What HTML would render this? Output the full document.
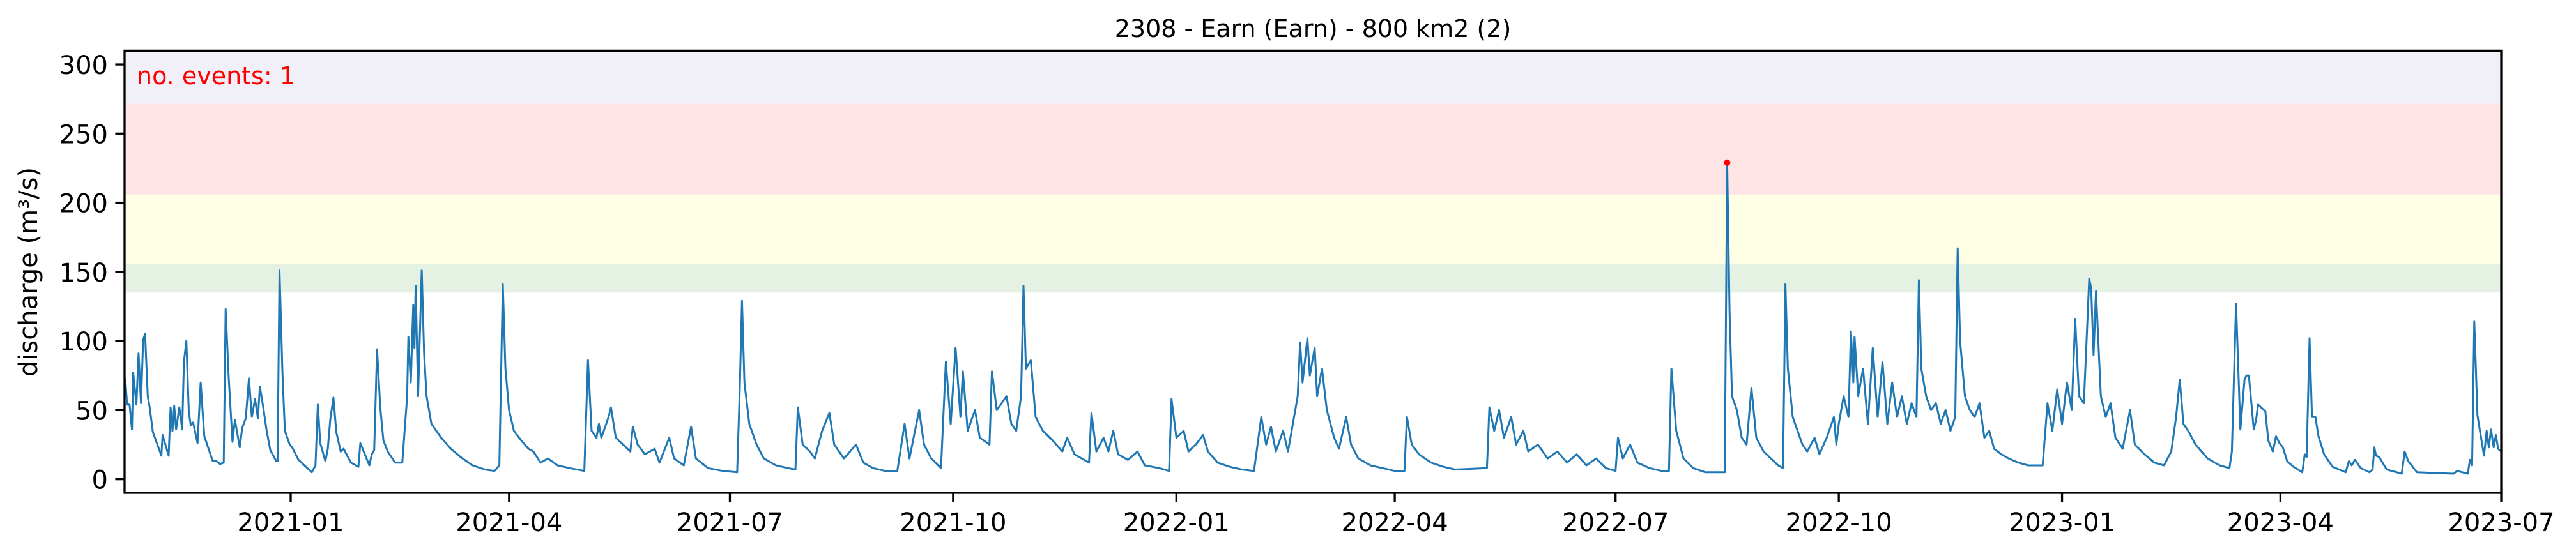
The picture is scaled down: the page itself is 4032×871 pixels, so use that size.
<!DOCTYPE html>
<html><head><meta charset="utf-8"><style>
html,body{margin:0;padding:0;background:#fff;}
svg{display:block;font-family:"DejaVu Sans","Liberation Sans",sans-serif;}
</style></head><body>
<svg id="chart" width="4032" height="871" viewBox="0 0 4032 871" xmlns="http://www.w3.org/2000/svg">
<g id="bands"></g>
<path id="series" fill="none" stroke="#1f77b4" stroke-width="3" stroke-linejoin="round"/>
<g id="events"></g>
<rect x="195" y="79.4" width="3720" height="692.6" fill="none" stroke="#000" stroke-width="3.3"/>
<g id="yticks"></g>
<g id="xticks"></g>
<text x="2055" y="58" font-size="38" text-anchor="middle" fill="#000">2308 - Earn (Earn) - 800 km2 (2)</text>
<text transform="translate(58,426) rotate(-90)" font-size="40" text-anchor="middle" fill="#000">discharge (m³/s)</text>
<text x="214" y="132" font-size="38" fill="#ff0000">no. events: 1</text>
</svg>
<script>
// day offsets relative to 2021-01-01
const dayOffsets = [-68.2,-67.4,-66.4,-65.4,-64.9,-63.6,-62.7,-61.7,-60.8,-60,-58.9,-58.1,-56.8,-53.3,-52.8,-50.3,-49.5,-48.7,-48,-47.2,-45.9,-44.7,-44,-43,-42,-41.2,-40.2,-38.4,-37.1,-35.6,-32.1,-30.6,-29.1,-27.6,-26.8,-25.6,-24,-23,-21,-20,-18.5,-17.2,-16,-14.7,-13.5,-12.7,-11.4,-9.9,-8.4,-5.9,-5.4,-4.6,-3.4,-2.4,-0.4,0.6,3.2,8.7,10.2,11.2,12.2,14.3,15.3,16.3,17.6,18.8,20.6,21.8,24.8,26.9,27.9,28.7,32.4,33.4,34.4,35.6,36.9,38.2,
40,43,46,48,48.5,49.5,50.5,51,51.5,52.5,54,55,56,58,62,66,70,75,80,84,86,87.4,88.5,90,92,95,98,100,103,106,110,115,121,122.5,124,126,127,128,131,132,134,137,140,141,143,146,150,152,156,158,162,165,167,172,178,184,185,186,187,189,192,195,200,205,208,209,211,214,216,219,222,224,228,233,236,240,245,250,253,255,259,261,264,268,270,272,274,276,277,279,282,284,288,289,291,295,297,299,301,302,303,305,307,310,314,318,320,323,326,329,330,332,335,337,339,341,345,349,352,358,362,363,365,368,370,373,376,378,382,387,392,397,400,402,404,406,409,411,413,415,416,417,419,420,422,423,425,427,430,432,435,437,440,445,450,455,459,460,462,465,470,475,480,493,494,496,498,500,503,505,508,510,514,518,522,526,530,534,538,542,546,547,549,552,555,560,565,568,569,571,574,578,583,591,592,593,594,596,598,600,602,604,607,610,613,615,616,617,619,621,623,625,628,630,633,636,637,638,640,642,643,644,644.5,646,648,650,652,654,656,658,660,662,664,666,668,670,671,672,674,676,678,680,682,684,686,687,688,690,692,694,696,698,700,702,705,708,712,716,722,724,726,728,730,732,734,735.4,737,739,741.2,742,743,744,746,748,750,752,755,758,760,764,768,772,775,777,778.5,780,782,785,790,795,799,800,801.7,
803.5,805.2,806,807,809,810,810.8,812,813.8,815,816.9,818.2,819.6,821,822.8,825.4,829,830,830.8,832,833,834.4,835.7,838,841.5,846.9,848.2,849.4,850.7,853.1,856.7,858,858.7,859.4,860.7,863.8,870,871.2,872.7,876.3,891.4,892.8,897.2,898.1,899,899.9,901.2,903.9,905,905.9,906.8,907.9,908.8,909.7,911];
const discharge = [73,54,54,36,77,54,91,55,101,105,60,52,34,17,32,17,52,35,53,36,52,36,85,100,49,39,41,26,70,31,13,13,11,12,123,75,27,43,23,37,44,73,45,58,44,67,53,35,21,13,13,151,77,35,25,23,14,5,10,54,26,13,22,43,59,34,20,22,12,10,9,26,10,18,21,94,52,28,
20,12,12,60,103,70,126,95,140,60,151,90,60,40,30,22,16,10,7,6,10,141,80,50,35,28,22,20,12,15,10,8,6,86,35,30,40,30,45,52,30,25,20,38,25,18,22,12,30,15,10,38,15,8,6,5,60,129,70,40,25,15,10,8,7,52,25,20,15,35,48,25,15,25,12,8,6,6,40,15,50,25,15,8,85,40,95,45,78,35,50,30,25,78,50,60,40,35,60,140,80,86,45,35,28,20,30,18,15,12,48,20,30,20,35,18,14,20,10,8,6,58,30,35,20,25,32,20,12,9,7,6,45,25,38,20,35,20,40,60,99,70,102,75,95,60,80,50,30,22,45,25,15,10,8,6,6,45,25,18,12,9,7,8,52,35,50,30,45,25,35,20,25,15,20,12,18,10,15,8,6,30,15,25,12,8,6,6,80,35,15,8,5,5,229,120,60,50,30,25,66,30,20,15,10,8,141,80,45,35,25,20,30,18,30,45,25,40,60,45,107,70,103,60,80,40,95,45,85,40,70,45,60,40,55,45,144,80,60,50,55,40,50,35,45,167,100,60,50,45,55,30,35,22,18,15,12,10,10,55,35,65,40,70,50,116,60,55,145,138,90,136,60,45,55,30,22,50,25,18,12,10,20,45,72,40,35,25,15,10,8,20,127,
36,72,75,75,36,43,54,52,49,28,20,31,26,23,13,9,5,18,16,102,45,45,31,18,9,5,13,10,14,8,5,7,23,17,16,7,4,20,13,5,4,6,4,14,10,114,46,17,35,23,36,23,32,22,20];
const eventDays = [592];
const eventValues = [229];
const bandLows = [135,156,206,271.6];
const bandHighs = [156,206,271.6,310];
const bandColors = ["#e5f1e3","#feffe5","#ffe4e5","#f1f0f9"];
const yTickValues = [0,50,100,150,200,250,300];
const xTickLabels = ["2021-01","2021-04","2021-07","2021-10","2022-01","2022-04","2022-07","2022-10","2023-01","2023-04","2023-07"];
const xTickDays = [0,90,181,273,365,455,546,638,730,820,911];

const NS = "http://www.w3.org/2000/svg";
const X0 = 195, X1 = 3915, Y0 = 772.3, Y1 = 79.4;
const D0 = -68.46, D1 = 911, V0 = -10, V1 = 310;
function xs(d){ return X0 + (d - D0) / (D1 - D0) * (X1 - X0); }
function ys(v){ return Y0 - (v - V0) / (V1 - V0) * (Y0 - Y1); }

const bands = document.getElementById('bands');
for (let i = 0; i < bandLows.length; i++) {
  const r = document.createElementNS(NS, 'rect');
  r.setAttribute('x', X0); r.setAttribute('width', X1 - X0);
  r.setAttribute('y', ys(bandHighs[i])); r.setAttribute('height', ys(bandLows[i]) - ys(bandHighs[i]));
  r.setAttribute('fill', bandColors[i]);
  
  
  bands.appendChild(r);
}

let d = '';
for (let i = 0; i < dayOffsets.length; i++) {
  d += (i ? 'L' : 'M') + xs(dayOffsets[i]).toFixed(1) + ' ' + ys(discharge[i]).toFixed(1);
}
document.getElementById('series').setAttribute('d', d);

const ev = document.getElementById('events');
for (let i = 0; i < eventDays.length; i++) {
  const c = document.createElementNS(NS, 'circle');
  c.setAttribute('cx', xs(eventDays[i])); c.setAttribute('cy', ys(eventValues[i]));
  c.setAttribute('r', 5); c.setAttribute('fill', '#ff0000');
  
  
  ev.appendChild(c);
}

const yt = document.getElementById('yticks');
for (const v of yTickValues) {
  const l = document.createElementNS(NS, 'line');
  l.setAttribute('x1', X0 - 14.6); l.setAttribute('x2', X0);
  l.setAttribute('y1', ys(v)); l.setAttribute('y2', ys(v));
  l.setAttribute('stroke', '#000'); l.setAttribute('stroke-width', 3.3);
  
  
  yt.appendChild(l);
  const t = document.createElementNS(NS, 'text');
  t.setAttribute('x', X0 - 26); t.setAttribute('y', ys(v) + 15);
  t.setAttribute('font-size', 40); t.setAttribute('text-anchor', 'end');
  t.textContent = v;
  
  
  yt.appendChild(t);
}

const xt = document.getElementById('xticks');
for (let i = 0; i < xTickDays.length; i++) {
  const x = xs(xTickDays[i]);
  const l = document.createElementNS(NS, 'line');
  l.setAttribute('x1', x); l.setAttribute('x2', x);
  l.setAttribute('y1', Y0); l.setAttribute('y2', Y0 + 14.6);
  l.setAttribute('stroke', '#000'); l.setAttribute('stroke-width', 3.3);
  
  
  xt.appendChild(l);
  const t = document.createElementNS(NS, 'text');
  t.setAttribute('x', x); t.setAttribute('y', 832);
  t.setAttribute('font-size', 40); t.setAttribute('text-anchor', 'middle');
  t.textContent = xTickLabels[i];
  
  
  xt.appendChild(t);
}
</script>
</body></html>
